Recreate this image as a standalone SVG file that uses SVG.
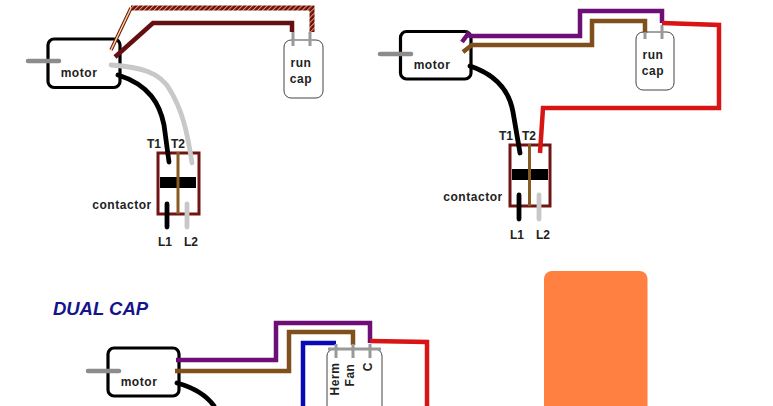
<svg xmlns="http://www.w3.org/2000/svg" width="773" height="406" viewBox="0 0 773 406">
<style>
text{font-family:"Liberation Sans",Arial,sans-serif;font-weight:bold;fill:#222;font-size:12px;text-anchor:middle}
.ls{letter-spacing:.55px}
.mot{fill:#fff;stroke:#000;stroke-width:3.2}
.cap{fill:#fff;stroke:#444;stroke-width:1}
.con{fill:#fff;stroke:#701515;stroke-width:3}
.w{fill:none;stroke-width:4.5;stroke-linejoin:miter}
.g{fill:none;stroke:#999;stroke-width:3}
.sh{fill:none;stroke:#8c8c8c;stroke-width:4.5;stroke-linecap:round}
.blk{fill:none;stroke:#000;stroke-width:4.8;stroke-linecap:round}
.lg{fill:none;stroke:#c8c8c8;stroke-width:4.8;stroke-linecap:round}
.br{stroke:#80501c}.pu{stroke:#6e0f78}.re{stroke:#d81414}.dr{stroke:#641010}
.bar{fill:#000}
</style>
<defs>
<pattern id="hatch" width="3.500" height="3.500" patternUnits="userSpaceOnUse" patternTransform="rotate(45)">
<rect width="3.500" height="3.500" fill="#6e1010"/><rect width="1" height="3.500" fill="#e0a070"/>
</pattern>
</defs>
<rect width="773" height="406" fill="#fff"/>
<rect id="orange-block" x="544" y="271" width="103.500" height="150" rx="8" fill="#ff8040"/>
<text id="dual-cap" x="100.500" y="315" style="font-size:18.5px;font-style:italic;fill:#14148c">DUAL CAP</text>

<g id="motor-1"><rect class="mot" x="48" y="39" width="72" height="48.500" rx="6"/><path class="sh" d="M28 61H59"/><text class="ls" x="79" y="77">motor</text></g>
<g id="cap-1"><rect class="cap" x="284" y="40" width="39" height="58" rx="7"/><text class="ls" x="301" y="67">run</text><text class="ls" x="301" y="83">cap</text></g>
<g id="contactor-1"><rect class="con" x="158" y="153" width="41" height="61"/><rect class="bar" x="160" y="177" width="36" height="11"/><path d="M178 152V214" stroke="#8a5a25" stroke-width="3"/><text x="154" y="148">T1</text><text x="178" y="148">T2</text><text class="ls" x="122" y="209">contactor</text><text x="165" y="246">L1</text><text x="191" y="246">L2</text></g>

<g id="motor-2"><rect class="mot" x="400.500" y="31.500" width="70.500" height="47.500" rx="6"/><path class="sh" d="M380 54H411"/><text class="ls" x="432" y="69">motor</text></g>
<g id="cap-2"><rect class="cap" x="636" y="32" width="38" height="58" rx="7"/><text class="ls" x="653" y="59">run</text><text class="ls" x="653" y="75">cap</text></g>
<g id="contactor-2"><rect class="con" x="510" y="145" width="40" height="61"/><rect class="bar" x="512" y="169" width="36" height="11"/><path d="M529.500 144V206" stroke="#8a5a25" stroke-width="3"/><text x="506" y="140">T1</text><text x="529" y="140">T2</text><text class="ls" x="473" y="201">contactor</text><text x="517" y="239">L1</text><text x="543" y="239">L2</text></g>

<g id="motor-3"><rect class="mot" x="108" y="348" width="71" height="48" rx="6"/><path class="sh" d="M88 371H119"/><text class="ls" x="139" y="386">motor</text></g>
<g id="cap-3"><rect class="cap" x="327" y="349" width="55" height="70" rx="7"/><text class="ls" transform="translate(339 379) rotate(-90)">Herm</text><text class="ls" transform="translate(354 375) rotate(-90)">Fan</text><text transform="translate(372 367) rotate(-90)">C</text></g>

<g id="connectors">
<path d="M131 8H312V32" fill="none" stroke="url(#hatch)" stroke-width="5"/>
<path d="M111 50L131 8" fill="none" stroke="#6e1010" stroke-width="3.500"/>
<path d="M111 50L131 8" fill="none" stroke="#f0d890" stroke-width="1.500"/>
<path class="w dr" d="M115 57L153 23H292V32"/>
<path class="g" d="M293 32V46M310 32V46"/>
<path class="lg" d="M111 65C140 67 160 72 170 90C182 110 187 130 192 163"/>
<path class="blk" d="M118 75C150 85 160 105 164 125L169 162"/>
<path class="blk" d="M167 204V227"/><path class="lg" d="M187 204V227"/>

<path class="w pu" d="M462 42L468 34L470 36H580V11H662V23"/>
<path class="w br" d="M463 52L472 45H592V21H645V33"/>
<path class="w re" d="M662 23L719 25V108H543L540 153"/>
<path class="g" d="M645 32V39M662 25V39"/>
<path class="blk" d="M470 66C500 76 510 95 513 112L520 153"/>
<path class="blk" d="M519 195V219"/><path class="lg" d="M539 195V219"/>

<path class="w pu" d="M176 360H276V323H370V343"/>
<path class="w br" d="M175 371H289V332H353V345"/>
<path class="w" stroke="#0808b8" d="M303 406V343H336"/>
<path class="w re" d="M370 341L427 342V406"/>
<path class="g" d="M336 344V358M353 344V358M370 344V358M328 349H381"/>
<path class="blk" d="M177 383C195 388 207 396 214 406"/>
</g>
</svg>
